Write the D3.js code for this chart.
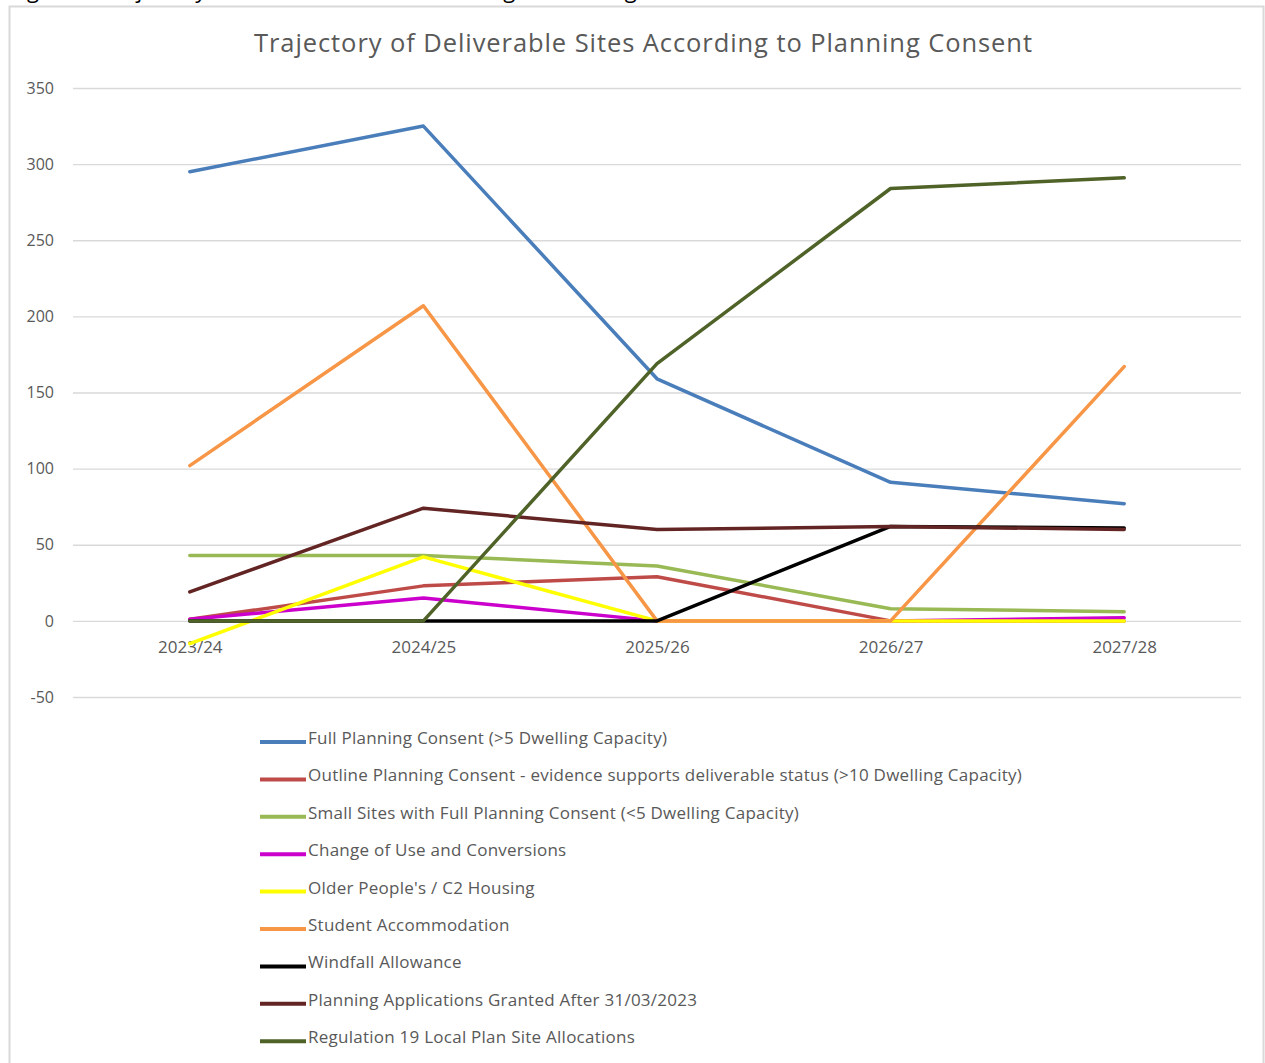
<!DOCTYPE html>
<html>
<head>
<meta charset="utf-8">
<script src="https://cdn.jsdelivr.net/npm/d3@7"></script>
<style>
  body { margin: 0; background: #fff; }
  text { font-family: "Open Sans", Lato, sans-serif; }
</style>
</head>
<body>
<div id="chart"></div>
<script>
const WIDTH = 1265
const HEIGHT = 1063

// data
const years = ["2023/24", "2024/25", "2025/26", "2026/27", "2027/28"]
const yTicks = [-50, 0, 50, 100, 150, 200, 250, 300, 350]

const seriesNames = [
  "Full Planning Consent (>5 Dwelling Capacity)",
  "Outline Planning Consent - evidence supports deliverable status (>10 Dwelling Capacity)",
  "Small Sites with Full Planning Consent (<5 Dwelling Capacity)",
  "Change of Use and Conversions",
  "Older People's / C2 Housing",
  "Student Accommodation",
  "Windfall Allowance",
  "Planning Applications Granted After 31/03/2023",
  "Regulation 19 Local Plan Site Allocations"
]
const seriesColors = ["#4a7ebb", "#be4b48", "#98b954", "#cc00cc", "#ffff00", "#f79646", "#000000", "#632523", "#4f6228"]

const fullConsent = [295, 325, 159, 91, 77]
const outlineConsent = [1, 23, 29, 0, 0]
const smallSites = [43, 43, 36, 8, 6]
const changeOfUse = [1, 15, 0, 0, 2]
const olderPeople = [-15, 42, 0, 0, 0]
const student = [102, 207, 0, 0, 167]
const windfall = [0, 0, 0, 62, 61]
const grantedAfter = [19, 74, 60, 62, 60]
const reg19 = [0, 0, 169, 284, 291]

const seriesValues = [fullConsent, outlineConsent, smallSites, changeOfUse, olderPeople, student, windfall, grantedAfter, reg19]

const svg = d3.select("#chart").append("svg")
  .attr("width", WIDTH)
  .attr("height", HEIGHT)

svg.append("rect").attr("width", WIDTH).attr("height", HEIGHT).attr("fill", "#fff")

// caption cut off above the chart (only descenders visible in the reference)
svg.append("text")
  .attr("x", 10)
  .attr("y", -2)
  .attr("font-size", "22px")
  .attr("fill", "#000")
  .text("Figure 4: Trajectory of Deliverable Sites According to Planning Consent")

// chart frame
svg.append("rect")
  .attr("x", 9.5)
  .attr("y", 6.5)
  .attr("width", 1254)
  .attr("height", 1100)
  .attr("fill", "#fff")
  .attr("stroke", "#d9d9d9")
  .attr("stroke-width", 2)

svg.append("text")
  .attr("x", 643)
  .attr("y", 52)
  .attr("text-anchor", "middle")
  .attr("font-size", "25.5px")
  .attr("fill", "#595959")
  .attr("textLength", 778)
  .attr("lengthAdjust", "spacing")
  .text("Trajectory of Deliverable Sites According to Planning Consent")

// scales
const x = d3.scalePoint()
  .domain(years)
  .range([73, 1241])
  .padding(0.5)
const y = d3.scaleLinear()
  .domain([-50, 350])
  .range([697, 88])

// gridlines + y labels
const yAxis = d3.axisLeft(y)
  .tickValues(yTicks)
  .tickFormat(d => String(d))
  .tickSize(-(1241 - 73))
  .tickPadding(19)
const gy = svg.append("g")
  .attr("transform", "translate(73,0)")
  .call(yAxis)
gy.select(".domain").remove()
gy.selectAll(".tick line").attr("stroke", "#d9d9d9").attr("stroke-width", 1.3)
gy.selectAll(".tick text")
  .attr("font-size", "16px")
  .attr("fill", "#595959")
  .attr("font-family", "Lato, sans-serif")

// x labels along zero line
const xAxis = d3.axisBottom(x).tickSize(0).tickPadding(20)
const gx = svg.append("g")
  .attr("transform", `translate(0, ${y(0)})`)
  .call(xAxis)
gx.select(".domain").remove()
gx.selectAll(".tick text")
  .attr("font-size", "17px")
  .attr("fill", "#595959")
  .attr("font-family", "Lato, sans-serif")

// lines
const line = d3.line()
  .x((d, i) => x(years[i]))
  .y(d => y(d))

seriesValues.forEach((vals, i) => {
  svg.append("path")
    .datum(vals)
    .attr("d", line)
    .attr("fill", "none")
    .attr("stroke", seriesColors[i])
    .attr("stroke-width", 3.5)
    .attr("stroke-linejoin", "round")
    .attr("stroke-linecap", "round")
})

// legend
const legend = svg.append("g").attr("transform", "translate(260, 741)")
seriesNames.forEach((name, i) => {
  const row = legend.append("g").attr("transform", `translate(0, ${i * 37.4})`)
  row.append("line")
    .attr("x1", 0).attr("x2", 46)
    .attr("y1", 1).attr("y2", 1)
    .attr("stroke", seriesColors[i])
    .attr("stroke-width", 4)
  row.append("text")
    .attr("x", 48)
    .attr("y", 3)
    .attr("font-size", "17px")
    .attr("letter-spacing", "0.25px")
    .attr("fill", "#595959")
    .text(name)
})
</script>
</body>
</html>
